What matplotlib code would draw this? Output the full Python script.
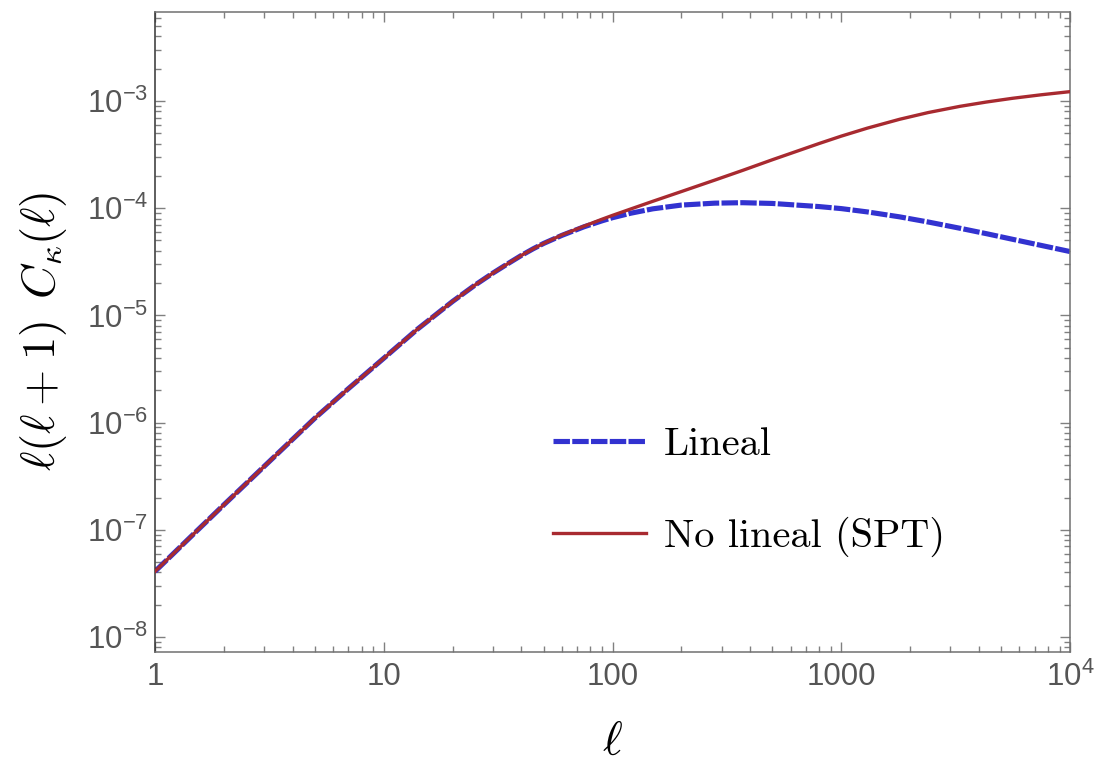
import matplotlib
matplotlib.use("Agg")
import matplotlib.pyplot as plt
from matplotlib.ticker import FixedLocator, LogLocator, NullFormatter

# ---- data ----
ell_common = [1, 1.5, 2, 3, 4, 5, 7, 10, 14, 20, 25, 30, 35, 40, 45, 50]
cl_common = [4.09e-8, 9.46e-8, 1.71e-7, 3.9e-7, 7.0e-7, 1.10e-6, 2.07e-6,
             3.98e-6, 7.4e-6, 1.35e-5, 1.91e-5, 2.48e-5, 3.05e-5, 3.63e-5,
             4.18e-5, 4.69e-5]

ell_tail = [60, 75, 90, 100, 120, 150, 200, 280, 370, 500, 800, 1000, 1300,
            1800, 2400, 3300, 4300, 5600, 7500, 10000]
cl_lineal_tail = [5.57e-5, 6.70e-5, 7.62e-5, 8.15e-5, 8.97e-5, 9.86e-5,
                  1.069e-4, 1.114e-4, 1.125e-4, 1.107e-4, 1.035e-4, 9.91e-5,
                  9.23e-5, 8.30e-5, 7.43e-5, 6.50e-5, 5.79e-5, 5.13e-5,
                  4.49e-5, 3.94e-5]
cl_spt_tail = [5.62e-5, 6.79e-5, 7.89e-5, 8.57e-5, 9.82e-5, 1.159e-4,
               1.429e-4, 1.828e-4, 2.249e-4, 2.831e-4, 4.01e-4, 4.70e-4,
               5.58e-4, 6.75e-4, 7.80e-4, 8.91e-4, 9.77e-4, 1.059e-3,
               1.143e-3, 1.222e-3]

ell = ell_common + ell_tail
cl_lineal = cl_common + cl_lineal_tail
cl_spt = cl_common + cl_spt_tail

xticks = [1, 10, 100, 1000, 10000]
xticklabels = ["1", "10", "100", "1000", r"$10^{4}$"]
yticks = [1e-8, 1e-7, 1e-6, 1e-5, 1e-4, 1e-3]
yticklabels = [r"$10^{-8}$", r"$10^{-7}$", r"$10^{-6}$", r"$10^{-5}$",
               r"$10^{-4}$", r"$10^{-3}$"]
labels = ["Lineal", "No lineal (SPT)"]

# ---- style ----
plt.rcParams["font.family"] = ["Liberation Sans", "DejaVu Sans"]
plt.rcParams["mathtext.default"] = "regular"

fig = plt.figure(figsize=(10.96, 7.63), dpi=100)
ax = fig.add_axes([155 / 1096, 111 / 763, 915 / 1096, 640 / 763])

blue = "#3232d0"
red = "#a82a30"
ax.plot(ell, cl_lineal, color=blue, lw=3.7, ls=(0, (3.2, 0.45)),
        dash_capstyle="butt", label=labels[0], zorder=2)
ax.plot(ell, cl_spt, color=red, lw=2.4, label=labels[1], zorder=3)

ax.set_xscale("log")
ax.set_yscale("log")
ax.set_xlim(1, 1e4)
ax.set_ylim(10 ** -8.14, 10 ** -2.17)

ax.xaxis.set_major_locator(FixedLocator(xticks))
ax.set_xticklabels(xticklabels)
ax.yaxis.set_major_locator(FixedLocator(yticks))
ax.set_yticklabels(yticklabels)
ax.xaxis.set_minor_locator(LogLocator(base=10, subs=range(2, 10), numticks=50))
ax.yaxis.set_minor_locator(LogLocator(base=10, subs=range(2, 10), numticks=50))
ax.xaxis.set_minor_formatter(NullFormatter())
ax.yaxis.set_minor_formatter(NullFormatter())

tick_col = "#808080"
ax.tick_params(which="both", direction="in", top=True, right=True,
               color=tick_col, width=1.0)
ax.tick_params(which="major", length=7, labelsize=22.5, labelcolor="#555555")
ax.tick_params(which="minor", length=4)
ax.tick_params(axis="x", which="major", pad=7)
ax.tick_params(axis="y", which="major", pad=5)

for side in ["top", "bottom", "right"]:
    ax.spines[side].set_color("#707070")
ax.spines["left"].set_color("#333333")
for s in ax.spines.values():
    s.set_linewidth(1.1)

L = r"\mathit{\ell}"
ylab = (r"$" + L + r"\mathrm{(}" + L + r"\:\mathrm{+}\:\mathrm{1)}\ \,"
        r"\mathit{C}_{\mathit{\kappa}}\mathrm{(}" + L + r"\mathrm{)}$")
ax.set_ylabel(ylab, fontsize=33.5, math_fontfamily="cm")
ax.yaxis.set_label_coords(-0.094, 0.5)
ax.set_xlabel(r"$" + L + r"$", fontsize=34, math_fontfamily="cm")
ax.xaxis.set_label_coords(0.5, -0.108)

leg = ax.legend(loc="center left", bbox_to_anchor=(0.435, 0.25),
                frameon=False, prop={"family": "cmr10", "size": 29},
                handlelength=2.3, handletextpad=0.45, labelspacing=1.33,
                borderpad=0, borderaxespad=0)

fig.savefig("out.png", dpi=100)
